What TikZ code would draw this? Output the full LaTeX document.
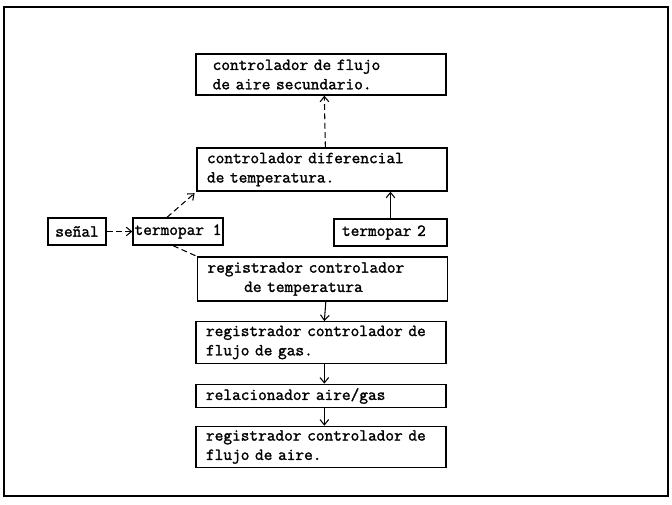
\documentclass[tikz,border=0pt]{standalone}
\usepackage{fontspec}
\setmonofont{Latin Modern Mono}[AutoFakeBold=1.6]
\usepackage{tikz}
\usetikzlibrary{arrows.meta, positioning}

\begin{document}
\begin{tikzpicture}[
    x=0.03cm, y=-0.03cm,
    font=\ttfamily\bfseries\fontsize{14.4}{16.5}\selectfont,
    caja/.style={draw=black, line width=1.1pt, minimum width=7.5cm,
        text width=6.9cm, inner xsep=0.3cm, align=left},
    chica/.style={draw=black, line width=1.1pt, minimum height=0.81cm,
        inner xsep=1pt, align=center},
    flecha/.style={-{Straight Barb[length=1.6mm, width=2.6mm]}, line width=0.9pt, draw=black},
    discont/.style={flecha, dash pattern=on 5pt off 3pt}
]
\useasboundingbox (0,0) rectangle (672,504);

% Marco
\draw[line width=1.3pt] (4,7) rectangle (668,496);

% Cajas principales (centro)
\node[caja, minimum height=1.23cm] (flujo2) at (321,74.5) {\hspace{0.2cm}controlador de flujo\\\hspace{0.2cm}de aire secundario.};
\node[caja, minimum height=1.29cm] (difer) at (322,169.5) {controlador diferencial\\de temperatura.};
\node[caja, minimum height=1.32cm] (regtemp) at (322.5,279) {registrador controlador\\\hspace{1.1cm}de temperatura};
\node[caja, minimum height=1.17cm] (reggas) at (321,342.5) {registrador controlador de\\flujo de gas.};
\node[caja, minimum height=0.66cm] (relac) at (321,396) {relacionador aire/gas};
\node[caja, minimum height=1.2cm] (regaire) at (321,447) {registrador controlador de\\flujo de aire.};

% Sensores (izquierda y derecha)
\node[chica, minimum width=1.74cm] (senal) at (77,231.5) {señal};
\node[chica, minimum width=2.7cm] (termo1) at (178,231.5) {termopar 1};
\node[chica, minimum width=3.39cm, text width=2.91cm, inner xsep=0.24cm, align=left] (termo2) at (390.5,232.5) {termopar 2};

% Conexiones
\draw[discont] (senal.east) -- (termo1.west);
\draw[discont, shorten >=2pt] ([xshift=-0.33cm]termo1.north) -- (difer.south west);
\draw[line width=0.9pt, dash pattern=on 5pt off 3pt] ([xshift=-0.15cm]termo1.south) -- (regtemp.north west);
\draw[flecha] (termo2.north) -- (termo2.north |- difer.south);
\draw[discont] ([xshift=0.1cm]difer.north) -- ([xshift=0.1cm]flujo2.south);
\draw[flecha] ([xshift=0.1cm]regtemp.south) -- ([xshift=0.1cm]reggas.north);
\draw[flecha] ([xshift=0.1cm]reggas.south) -- ([xshift=0.1cm]relac.north);
\draw[flecha] ([xshift=0.1cm]relac.south) -- ([xshift=0.1cm]regaire.north);

\end{tikzpicture}
\end{document}
